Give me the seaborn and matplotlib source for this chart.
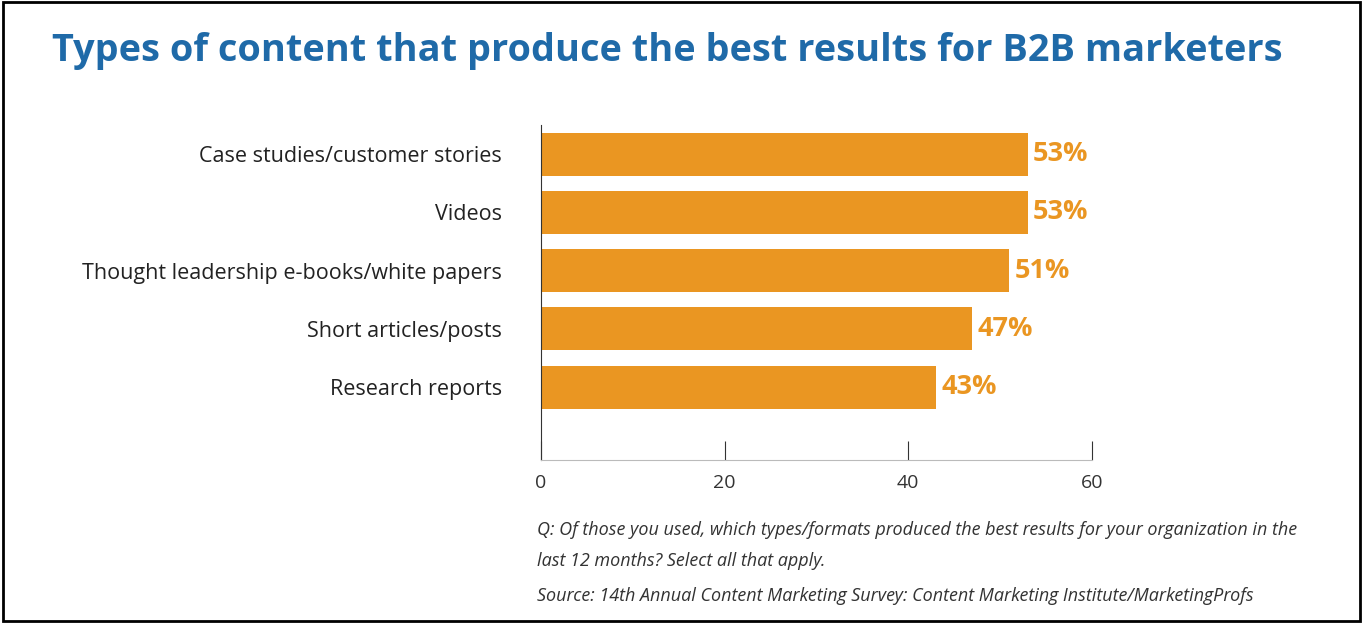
import matplotlib
matplotlib.use("Agg")
import matplotlib.pyplot as plt
import seaborn as sns
import pandas as pd
from matplotlib.patches import Rectangle

categories = ["Case studies/customer stories", "Videos", "Thought leadership e-books/white papers",
              "Short articles/posts", "Research reports"]
values = [53, 53, 51, 47, 43]
ticks = [0, 20, 40, 60]

df = pd.DataFrame({"cat": categories, "val": values})
plt.rcParams["font.family"] = "Open Sans"
fig = plt.figure(figsize=(13.63, 6.23), dpi=100)
ax = fig.add_axes([0.397, 0.262, 0.404, 0.537])
sns.barplot(data=df, x="val", y="cat", color="#ea9622", saturation=1, width=0.74, ax=ax)
ax.set_xlim(0, 60)
ax.set_ylim(5.25, -0.5)
ax.set_xticks(ticks)
ax.tick_params(axis="x", direction="in", length=14, labelsize=14, colors="#333333", pad=10)
ax.tick_params(axis="y", length=0, labelsize=15.5, pad=28)
for lab in ax.get_yticklabels():
    lab.set_color("#222222")
ax.set_xlabel(""); ax.set_ylabel("")
for s in ["top", "right"]:
    ax.spines[s].set_visible(False)
ax.spines["bottom"].set_color("#bbbbbb")
ax.spines["left"].set_color("#333333")
for i, v in enumerate(values):
    ax.text(v + 0.6, i, f"{v}%", va="center", ha="left", fontsize=19.5, fontweight="bold", color="#ea9622")
fig.text(0.038, 0.918, "Types of content that produce the best results for B2B marketers",
         fontsize=27.3, fontweight="bold", color="#1f6aa8", va="center")
fig.text(0.394, 0.142, "Q: Of those you used, which types/formats produced the best results for your organization in the",
         fontsize=13, style="italic", color="#333333")
fig.text(0.394, 0.092, "last 12 months? Select all that apply.", fontsize=13, style="italic", color="#333333")
fig.text(0.394, 0.035, "Source: 14th Annual Content Marketing Survey: Content Marketing Institute/MarketingProfs",
         fontsize=13, style="italic", color="#333333")
fig.patches.append(Rectangle((0.002, 0.003), 0.996, 0.994, transform=fig.transFigure,
                             fill=False, edgecolor="black", linewidth=2))
fig.savefig("out.png", dpi=100)
